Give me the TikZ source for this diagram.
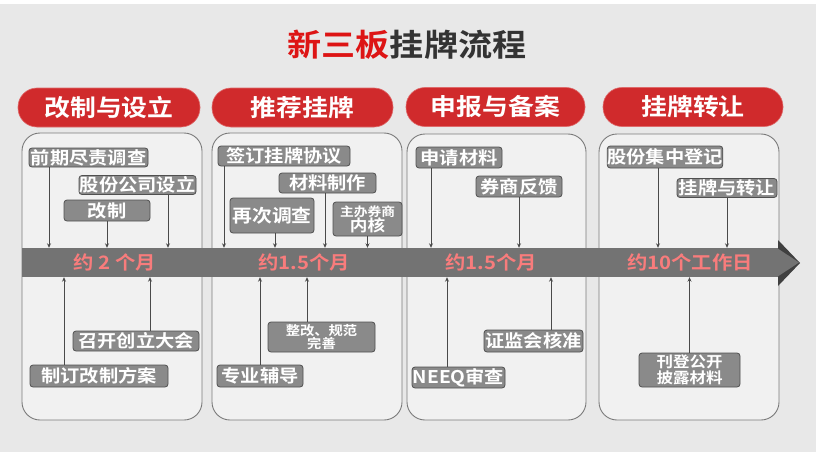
\documentclass[tikz,border=0pt]{standalone}
\usepackage{fontspec}
\setmainfont{Noto Sans CJK SC}[FakeStretch=1.1, BoldFont={Noto Sans CJK SC Bold}]
\usetikzlibrary{arrows.meta,calc}
\definecolor{bgc}{HTML}{E8E8E8}
\definecolor{pillred}{HTML}{D02A2C}
\definecolor{titlered}{HTML}{DD1414}
\definecolor{titledark}{HTML}{333333}
\definecolor{bandc}{HTML}{737373}
\definecolor{bandtxt}{HTML}{F87C7C}
\definecolor{boxfill}{HTML}{8A8A8A}
\definecolor{boxedge}{HTML}{505050}
\definecolor{panedge}{HTML}{7A7A7A}
\definecolor{arrc}{HTML}{4A4A4A}
\tikzset{
  pill/.style={fill=pillred, draw=pillred!70!white, line width=0.6pt, rounded corners=19pt,
    text=white, font=\fontsize{23.5}{23.5}\selectfont\bfseries, inner sep=0pt, minimum height=39pt},
  panel/.style={draw=panedge, line width=0.9pt, rounded corners=18pt, fill=bgc!60!white},
  gbox/.style={fill=boxfill, draw=boxedge, line width=0.8pt, rounded corners=3pt,
    text=white, font=\fontsize{17.5}{17.5}\selectfont\bfseries, inner sep=0pt, align=center},
  bandtext/.style={text=bandtxt, font=\fontsize{18.5}{18.5}\selectfont\bfseries, inner sep=0pt},
  arr/.style={draw=arrc, line width=0.8pt, -{Stealth[length=4.5pt,width=4pt]}}
}
\begin{document}
\begin{tikzpicture}[x=1pt,y=-1pt]
\useasboundingbox (0,0) rectangle (816,452);
\fill[bgc] (0,0) rectangle (816,452);
\fill[white] (0,0) rectangle (816,4);

% title
\node[font=\fontsize{31}{31}\selectfont\bfseries, text=titledark, inner sep=0pt] (title) at (407,45)
  {{\color{titlered}新三板}挂牌流程};

% pills
\node[pill, minimum width=182pt] (p1) at (109,107.5) {改制与设立};
\node[pill, minimum width=181pt] (p2) at (302.5,107.5) {推荐挂牌};
\node[pill, minimum width=179pt] (p3) at (495.5,107) {申报与备案};
\node[pill, minimum width=180pt] (p4) at (693,107) {挂牌转让};

% panels
\draw[panel] (22,133) rectangle (202,420);
\draw[panel] (212,133) rectangle (402,420);
\draw[panel] (407,134) rectangle (586,420);
\draw[panel] (599,134) rectangle (779,420);

% band with arrow head
\fill[black!75] (778,240) -- (800,263) -- (778,286) -- cycle;
\fill[bandc] (777,248) -- (799,262.5) -- (777,277) -- cycle;
\node[fill=bandc, minimum width=756pt, minimum height=29pt, inner sep=0pt] (band) at (400,262.5) {};
\node[bandtext] (t1) at (115,262) {约 2 个月};
\node[bandtext] (t2) at (304,262) {约1.5个月};
\node[bandtext] (t3) at (491,262) {约1.5个月};
\node[bandtext] (t4) at (690,262) {约10个工作日};

% panel 1
\node[gbox, minimum width=119pt, minimum height=19pt] (a1) at (88.5,157.5) {前期尽责调查};
\node[gbox, minimum width=117pt, minimum height=19pt] (a2) at (137.5,185) {股份公司设立};
\node[gbox, minimum width=86pt, minimum height=21pt] (a3) at (107,210.5) {改制};
\node[gbox, minimum width=126pt, minimum height=20pt] (b1) at (136,341) {召开创立大会};
\node[gbox, minimum width=138pt, minimum height=22pt] (b2) at (99,376) {制订改制方案};
\draw[arr] ([xshift=-39.5pt]a1.south) coordinate (s1) -- (s1 |- band.north);
\draw[arr] ([xshift=30.5pt]a2.south) coordinate (s2) -- (s2 |- band.north);
\draw[arr] (a3.south) -- (a3.south |- band.north);
\draw[arr] ([xshift=14pt]b1.north) coordinate (s3) -- (s3 |- band.south);
\draw[arr] ([xshift=-35pt]b2.north) coordinate (s4) -- (s4 |- band.south);

% panel 2
\node[gbox, minimum width=132pt, minimum height=20pt] (c1) at (284,156) {签订挂牌协议};
\node[gbox, minimum width=97pt, minimum height=20pt] (c2) at (327.5,183) {材料制作};
\node[gbox, minimum width=84pt, minimum height=35pt, font=\fontsize{18}{18}\selectfont\bfseries] (c3) at (272,215.5) {再次调查};
\node[gbox, minimum width=69pt, minimum height=34pt, font=\bfseries] (c4) at (367.5,219)
  {{\fontsize{12.5}{12.5}\selectfont 主办券商}\\[-1pt]{\fontsize{16}{16}\selectfont 内核}};
\node[gbox, minimum width=107pt, minimum height=30pt, font=\fontsize{13}{13}\selectfont\bfseries] (d1) at (321.5,337)
  {整改、规范\\完善};
\node[gbox, minimum width=86pt, minimum height=22pt] (d2) at (260,376) {专业辅导};
\draw[arr] ([xshift=-60pt]c1.south) coordinate (s5) -- (s5 |- band.north);
\draw[arr] ([xshift=-2.5pt]c2.south) coordinate (s6) -- (s6 |- band.north);
\draw[arr] ([xshift=3pt]c3.south) coordinate (s7) -- (s7 |- band.north);
\draw[arr] (c4.south) -- (c4.south |- band.north);
\draw[arr] ([xshift=-14.5pt]d1.north) coordinate (s8) -- (s8 |- band.south);
\draw[arr] (d2.north) -- (d2.north |- band.south);

% panel 3
\node[gbox, minimum width=86pt, minimum height=21pt] (e1) at (459,157.5) {申请材料};
\node[gbox, minimum width=86pt, minimum height=21pt] (e2) at (519,186.5) {券商反馈};
\node[gbox, minimum width=99pt, minimum height=22pt] (f1) at (533.5,341) {证监会核准};
\node[gbox, minimum width=93pt, minimum height=21pt] (f2) at (458.5,377.5) {NEEQ审查};
\draw[arr] ([xshift=-28pt]e1.south) coordinate (s9) -- (s9 |- band.north);
\draw[arr] (e2.south) -- (e2.south |- band.north);
\draw[arr] ([xshift=17.5pt]f1.north) coordinate (s10) -- (s10 |- band.south);
\draw[arr] ([xshift=-11.5pt]f2.north) coordinate (s11) -- (s11 |- band.south);

% panel 4
\node[gbox, minimum width=112pt, minimum height=22pt] (g1) at (665,157) {股份集中登记};
\node[gbox, minimum width=100pt, minimum height=19pt] (g2) at (727,188) {挂牌与转让};
\node[gbox, minimum width=101pt, minimum height=34pt, font=\fontsize{15}{15.5}\selectfont\bfseries] (h1) at (689.5,370)
  {刊登公开\\披露材料};
\draw[arr] ([xshift=-7pt]g1.south) coordinate (s12) -- (s12 |- band.north);
\draw[arr] (g2.south) -- (g2.south |- band.north);
\draw[arr] (h1.north) -- (h1.north |- band.south);
\end{tikzpicture}
\end{document}
